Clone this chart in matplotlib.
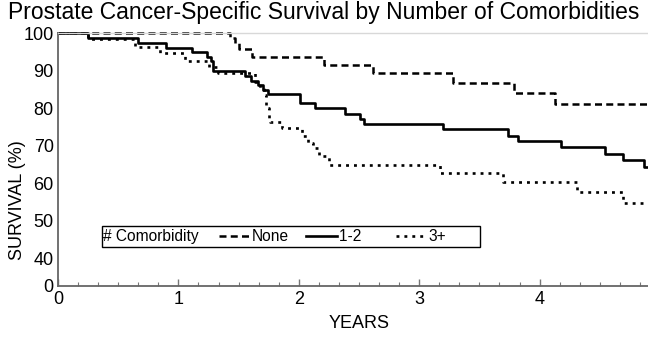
import matplotlib
matplotlib.use('Agg')
import matplotlib.pyplot as plt
from matplotlib.lines import Line2D
from matplotlib.patches import Rectangle
import numpy as np

plt.rcParams['font.family'] = ['Liberation Sans', 'DejaVu Sans']

# Kaplan-Meier steps: (years, survival %)
none_t = [0, 1.43, 1.47, 1.50, 1.61, 2.21, 2.62, 3.28, 3.785, 4.125]
none_s = [100, 98.8, 97.5, 95.8, 93.6, 91.6, 89.4, 86.7, 84.0, 81.2]

mid_t = [0, 0.25, 0.665, 0.90, 1.11, 1.24, 1.27, 1.29, 1.555, 1.60, 1.66, 1.70,
         1.745, 2.01, 2.135, 2.385, 2.51, 2.54, 3.20, 3.74, 3.82, 4.18, 4.54,
         4.69, 4.865]
mid_s = [100, 98.8, 97.5, 96.2, 95.0, 93.6, 92.5, 90.0, 88.6, 87.4, 86.2, 85.0,
         83.8, 81.3, 80.0, 78.5, 77.2, 75.8, 74.5, 72.7, 71.2, 69.7, 67.9,
         66.1, 64.4]

high_t = [0, 0.25, 0.64, 0.85, 1.055, 1.25, 1.33, 1.635, 1.68, 1.71, 1.73, 1.75,
          1.76, 1.86, 2.03, 2.08, 2.12, 2.17, 2.25, 3.175, 3.70, 4.31, 4.69]
high_s = [100, 98.5, 96.4, 94.7, 92.7, 91.0, 89.3, 87.0, 85.5, 83.5, 80.0, 77.5,
          76.3, 74.7, 72.7, 70.7, 69.4, 67.2, 65.0, 62.7, 60.4, 57.7, 54.8]

group_labels = ['None', '1-2    ', '3+']
xtick_vals = [0, 1, 2, 3, 4]
ytick_vals = [40, 50, 60, 70, 80, 90, 100]
x_end = 5.0
y_floor = 32.7  # broken axis: this position is labelled "0"

fig = plt.figure(figsize=(6.48, 3.37), dpi=100)
ax = fig.add_axes([58 / 648, 51.3 / 337, 602 / 648, 252.4 / 337])

styles = [dict(linestyle=(0, (2.8, 1.7)), lw=1.8),
          dict(linestyle='-', lw=1.9),
          dict(linestyle=(0, (1.1, 1.9)), lw=1.9)]
handles = []
for t, s, st in zip([none_t, mid_t, high_t], [none_s, mid_s, high_s], styles):
    ax.step(t + [x_end], s + [s[-1]], where='post', color='black',
            clip_on=False, **st)
    handles.append(Line2D([], [], color='black', **st))

ax.set_xlim(0, x_end)
ax.set_ylim(y_floor, 100)
ax.set_xticks(xtick_vals)
ax.set_xticks(np.arange(0, x_end + 0.01, 1 / 6), minor=True)
ax.set_yticks([y_floor] + ytick_vals)
ax.set_yticklabels(['0'] + [str(v) for v in ytick_vals])

ax.tick_params(axis='x', which='major', direction='in', length=5, width=1,
               color='#777777', labelsize=13, pad=4)
ax.tick_params(axis='x', which='minor', direction='in', length=3, width=0.8,
               color='#777777')
ax.tick_params(axis='y', length=0, labelsize=13, pad=3)

for side in ['left', 'bottom']:
    ax.spines[side].set_color('#666666')
    ax.spines[side].set_linewidth(1.3)
ax.spines['top'].set_color('#d8d8d8')
ax.spines['top'].set_linewidth(1)
ax.spines['right'].set_visible(False)

ax.set_xlabel('YEARS', fontsize=13)
ax.xaxis.set_label_coords(0.5, -0.115)
ax.set_ylabel('SURVIVAL (%)', fontsize=13)
ax.yaxis.set_label_coords(-0.053, 0.34)

fig.text(0.5, 1 - 12 / 337, 'Prostate Cancer-Specific Survival by Number of Comorbidities',
         ha='center', va='center', fontsize=16.5)

# legend box
fig.patches.append(Rectangle((102 / 648, 90 / 337), 378 / 648, 21 / 337,
                             transform=fig.transFigure, fill=False,
                             edgecolor='black', lw=1))
fig.text(103 / 648, (337 - 236.5) / 337, '# Comorbidity', ha='left',
         va='center', fontsize=11.2)
fig.legend(handles, group_labels, loc='center left',
           bbox_to_anchor=(219 / 648, (337 - 236.5) / 337), ncol=3,
           frameon=False, fontsize=11.2, handlelength=2.0, handletextpad=0.12,
           columnspacing=1.1, borderpad=0, borderaxespad=0)

fig.savefig('out.png', dpi=100)
